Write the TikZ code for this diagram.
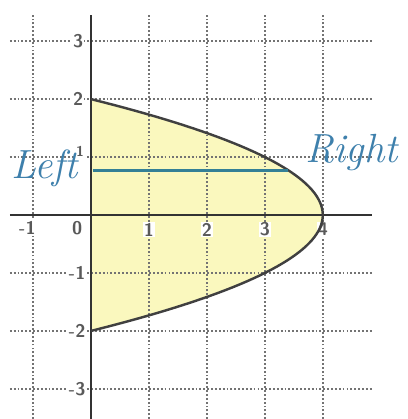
\documentclass[tikz,border=0pt]{standalone}
\usepackage{tikz}
\usetikzlibrary{positioning}
\definecolor{penblue}{RGB}{62,128,172}
\definecolor{penteal}{RGB}{52,128,150}
\definecolor{paleyellow}{RGB}{250,248,190}
\begin{document}
\begin{tikzpicture}[
    gridline/.style={black!55, densely dotted, line width=0.9pt},
    axis/.style={black!80, line width=1.2pt},
    curve/.style={black!75, line width=1.2pt},
    ticklabel/.style={font=\sffamily\small\bfseries, text=black!65,
                      fill=white, inner sep=0.6pt},
    hand/.style={font=\fontsize{20}{20}\selectfont\itshape, text=penblue},
    pen/.style={penteal, line width=1.3pt}
]
\useasboundingbox (-1.57,-3.52) rectangle (5.47,3.71);

% Shaded region between the y-axis and x = 4 - y^2
\fill[paleyellow] (0,-2) -- plot[variable=\t, domain=-2:2, samples=60] ({4-\t*\t},\t)
    -- (0,2) -- cycle;

% Grid
\foreach \x in {-1,1,2,3,4}
    \draw[gridline] (\x,-3.52) -- (\x,3.45);
\foreach \y in {-3,-2,-1,1,2,3}
    \draw[gridline] (-1.4,\y) -- (4.85,\y);

% Axes
\draw[axis] (-1.4,0) -- (4.85,0);
\draw[axis] (0,-3.52) -- (0,3.45);

% Tick labels
\node[ticklabel] (xm1) at (-1.1,-0.22) {-1};
\node[ticklabel] (x0)  at (-0.24,-0.22) {0};
\foreach \x in {1,2,3,4}
    \node[ticklabel] (x\x) at (\x,-0.25) {\x};
\node[ticklabel] (y3)  at (-0.22,3) {3};
\node[ticklabel] (y2)  at (-0.22,2) {2};
\node[ticklabel, font=\sffamily\scriptsize\bfseries] (y1) at (-0.19,1.1) {1};
\node[ticklabel] (ym1) at (-0.24,-1) {-1};
\node[ticklabel] (ym2) at (-0.24,-2) {-2};
\node[ticklabel] (ym3) at (-0.24,-3) {-3};

% Parabola
\draw[curve] plot[variable=\t, domain=-2:2, samples=80] ({4-\t*\t},\t);

% Horizontal strip from left to right boundary
\coordinate (lefte)  at (0.03,0.77);
\coordinate (righte) at ({4-0.77*0.77},0.77);
\draw[pen] (lefte) -- (righte);

\node[hand] (leftlbl)  at (-0.8,0.8)  {Left};
\node[hand] (rightlbl) at (4.5,1.08) {Right};
\end{tikzpicture}
\end{document}
